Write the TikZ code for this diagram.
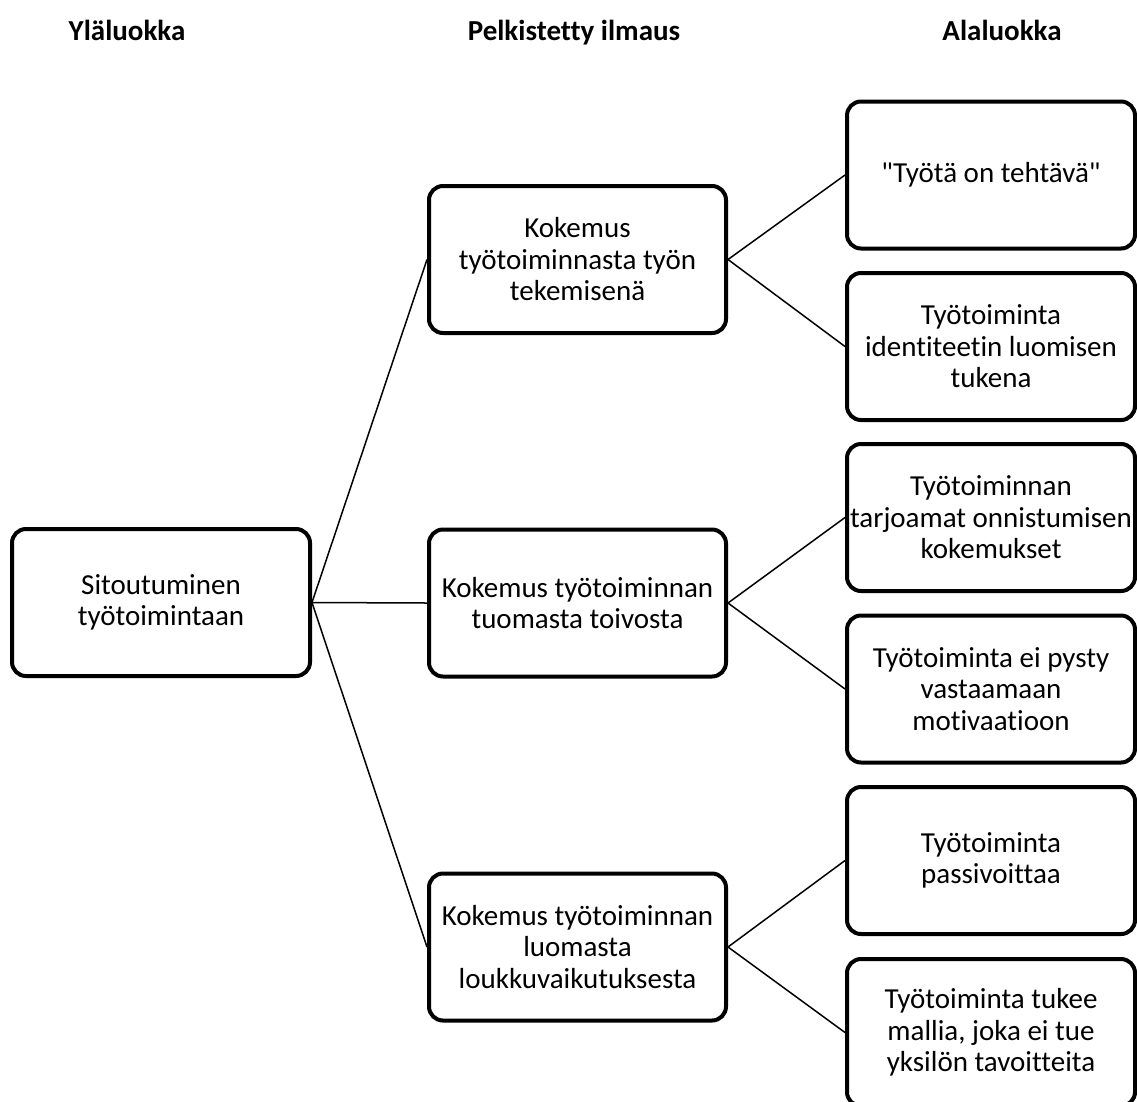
\documentclass[tikz,border=0pt]{standalone}
\usepackage{fontspec}
\setmainfont{Carlito}[Ligatures=TeXOff, RawFeature={-liga;-clig;-dlig}]
\begin{document}
\begin{tikzpicture}[x=1pt,y=-1pt,
  box/.style={draw, line width=4pt, rounded corners=14pt, minimum width=297pt,
    minimum height=147pt, align=center, inner xsep=-30pt, inner ysep=0pt,
    font=\fontsize{29}{31.5}\selectfont},
  rbox/.style={box, minimum width=288pt},
  hdr/.style={font=\fontsize{29}{31}\selectfont\bfseries, anchor=base},
  link/.style={line width=1.5pt}]
\clip (0,0) rectangle (1137,1101);
\fill[white] (0,0) rectangle (1137,1101);
% headers
\node[hdr] (h1) at (127,40) {Yläluokka};
\node[hdr] (h2) at (574,40) {Pelkistetty ilmaus};
\node[hdr] (h3) at (1002,40) {Alaluokka};
% left
\node[box, minimum width=298pt] (top) at (161,602.5) {Sitoutuminen\\työtoimintaan};
% middle
\node[box] (m1) at (577.5,259.5) {Kokemus\\työtoiminnasta työn\\tekemisenä};
\node[box] (m2) at (577.5,603) {Kokemus työtoiminnan\\tuomasta toivosta};
\node[box] (m3) at (577.5,947) {Kokemus työtoiminnan\\luomasta\\loukkuvaikutuksesta};
% right
\node[rbox] (r1) at (991,175) {"Työtä on tehtävä"};
\node[rbox] (r2) at (991,346.5) {Työtoiminta\\identiteetin luomisen\\tukena};
\node[rbox] (r3) at (991,517.5) {Työtoiminnan\\tarjoamat onnistumisen\\kokemukset};
\node[rbox] (r4) at (991,689) {Työtoiminta ei pysty\\vastaamaan\\motivaatioon};
\node[rbox] (r5) at (991,860.5) {Työtoiminta\\passivoittaa};
\node[rbox] (r6) at (991,1032.5) {Työtoiminta tukee\\mallia, joka ei tue\\yksilön tavoitteita};
% connectors
\draw[link] (top.east) -- (m1.west);
\draw[link] (top.east) -- (m2.west);
\draw[link] (top.east) -- (m3.west);
\draw[link] (m1.east) -- (r1.west);
\draw[link] (m1.east) -- (r2.west);
\draw[link] (m2.east) -- (r3.west);
\draw[link] (m2.east) -- (r4.west);
\draw[link] (m3.east) -- (r5.west);
\draw[link] (m3.east) -- (r6.west);
\end{tikzpicture}
\end{document}
